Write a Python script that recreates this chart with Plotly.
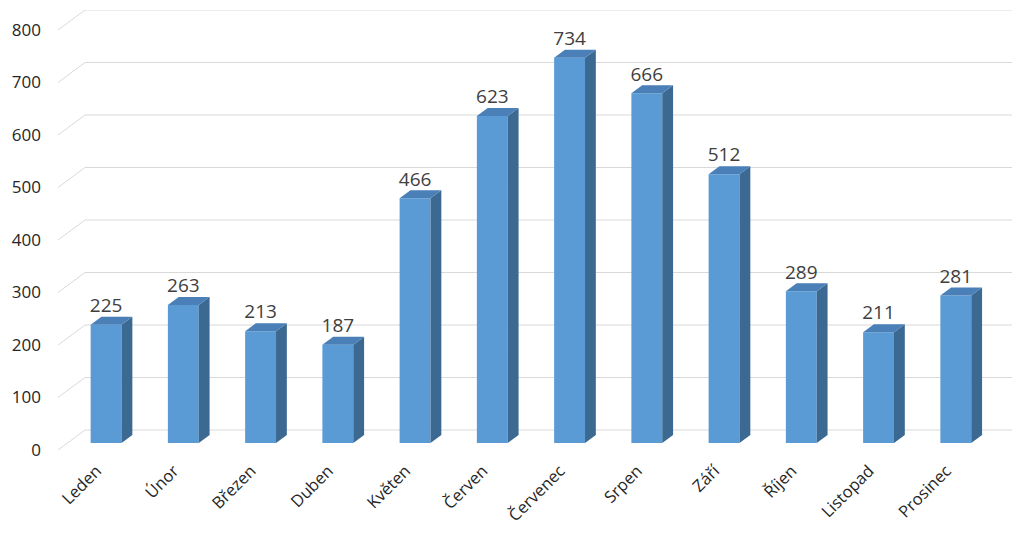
import plotly.graph_objects as go

months = ["Leden", "Únor", "Březen", "Duben", "Květen", "Červen",
          "Červenec", "Srpen", "Září", "Říjen", "Listopad", "Prosinec"]
values = [225, 263, 213, 187, 466, 623, 734, 666, 512, 289, 211, 281]
y_ticks = [0, 100, 200, 300, 400, 500, 600, 700, 800]

# pseudo-3D projection (depth 0 = front plane, 1 = back wall)
KX = 0.35    # x shift in category units for full depth
KY = 38.1    # y shift in value units for full depth
D0, D1 = 0.35, 0.75  # bar front / back depth
BW = 0.40            # bar width (category units)

FRONT = "#5B9BD5"
SIDE = "#3C6991"
TOP = "#4A7FB8"
GRID = "#D9D9D9"

x_front_min = -0.5
x_max = 11.5 + KX

fig = go.Figure()

# walls / gridlines
shapes = []
for v in y_ticks:
    shapes.append(dict(type="line", xref="x", yref="y", layer="below",
                       x0=x_front_min, y0=v, x1=x_front_min + KX, y1=v + KY,
                       line=dict(color=GRID, width=1)))
    shapes.append(dict(type="line", xref="x", yref="y", layer="below",
                       x0=x_front_min + KX, y0=v + KY, x1=x_max, y1=v + KY,
                       line=dict(color=GRID, width=1)))

xs = list(range(len(months)))
fx = [i + KX * D0 for i in xs]
base0 = KY * D0
base1 = KY * D1

# front faces
fig.add_trace(go.Bar(x=fx, y=values, base=base0, width=BW,
                     marker=dict(color=FRONT, line=dict(width=0)),
                     hoverinfo="skip", showlegend=False))

# side faces and top faces
sx, sy, tx, ty = [], [], [], []
dxs = KX * (D1 - D0)
for c, v in zip(fx, values):
    xl, xr = c - BW / 2, c + BW / 2
    sx += [xr, xr, xr + dxs, xr + dxs, xr, None]
    sy += [base0, v + base0, v + base1, base1, base0, None]
    tx += [xl, xr, xr + dxs, xl + dxs, xl, None]
    ty += [v + base0, v + base0, v + base1, v + base1, v + base0, None]

fig.add_trace(go.Scatter(x=sx, y=sy, mode="lines", fill="toself",
                         fillcolor=SIDE, line=dict(width=0, color=SIDE),
                         hoverinfo="skip", showlegend=False))
fig.add_trace(go.Scatter(x=tx, y=ty, mode="lines", fill="toself",
                         fillcolor=TOP, line=dict(width=0, color=TOP),
                         hoverinfo="skip", showlegend=False))

# data labels
fig.add_trace(go.Scatter(x=fx, y=[v + base1 for v in values], mode="text",
                         text=[str(v) for v in values], textposition="top center",
                         textfont=dict(family="Open Sans", size=19, color="#404040"),
                         hoverinfo="skip", showlegend=False))

fig.update_layout(
    width=1008, height=523,
    margin=dict(l=50, r=4, t=2, b=81),
    paper_bgcolor="white", plot_bgcolor="white",
    shapes=shapes,
    font=dict(family="Open Sans", color="#262626"),
    xaxis=dict(range=[x_front_min, x_max], tickmode="array", tickvals=xs,
               ticktext=months, tickangle=-45, showgrid=False, zeroline=False,
               showline=False, ticks="", tickfont=dict(size=16.5),
               ticklabelstandoff=7, automargin=False),
    yaxis=dict(range=[0, 800 + KY], tickmode="array", tickvals=y_ticks,
               showgrid=False, zeroline=False, showline=False, ticks="",
               ticklabelstandoff=16, tickfont=dict(size=17),
               automargin=False),
)

fig.write_html("out.html")
